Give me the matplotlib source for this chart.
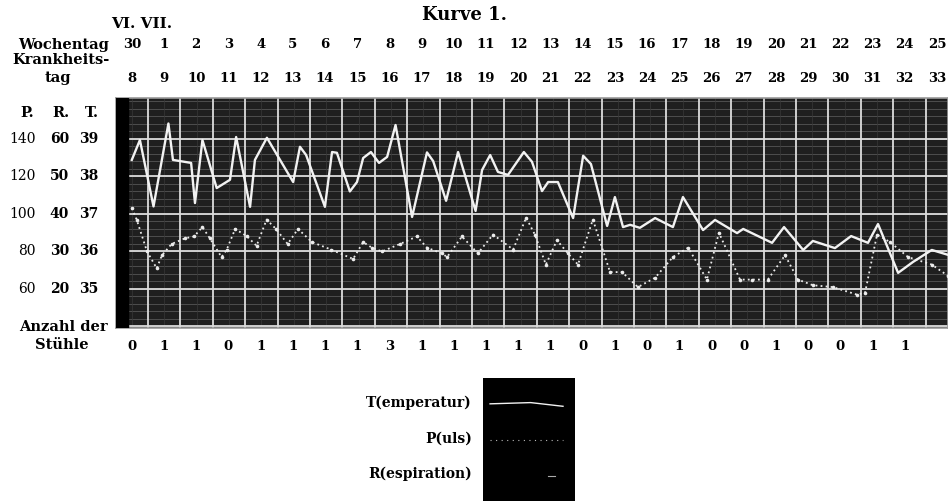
import matplotlib.pyplot as plt
from matplotlib.transforms import blended_transform_factory

plt.rcParams['font.family'] = ['DejaVu Serif']
plt.rcParams['font.weight'] = 'bold'

# Tage (Spalten): Wochentag / Krankheitstag / Anzahl der Stuehle
wochentag = [30, 1, 2, 3, 4, 5, 6, 7, 8, 9, 10, 11, 12, 13, 14, 15, 16, 17,
             18, 19, 20, 21, 22, 23, 24, 25]
krankheitstag = [8, 9, 10, 11, 12, 13, 14, 15, 16, 17, 18, 19, 20, 21, 22,
                 23, 24, 25, 26, 27, 28, 29, 30, 31, 32, 33]
stuehle = [0, 1, 1, 0, 1, 1, 1, 1, 3, 1, 1, 1, 1, 1, 0, 1, 0, 1, 0, 0, 1, 0,
           0, 1, 1]

# Temperatur (Zeit in Tagen ab Spalte "30")
t_temp = [0.50, 0.75, 1.17, 1.63, 1.77, 2.33, 2.45, 2.68, 3.12, 3.53, 3.72,
          4.15, 4.30, 4.67, 5.48, 5.69, 5.88, 6.46, 6.68, 6.83, 7.23, 7.45,
          7.64, 7.88, 8.13, 8.38, 8.64, 9.15, 9.61, 9.80, 10.20, 10.57, 11.11,
          11.31, 11.56, 11.80, 12.11, 12.60, 12.85, 13.16, 13.35, 13.65,
          14.12, 14.43, 14.67, 15.17, 15.41, 15.66, 15.88, 16.18, 16.65,
          17.20, 17.51, 18.13, 18.50, 19.18, 19.37, 20.26, 20.63, 21.22,
          21.52, 22.20, 22.70, 23.22, 23.53, 24.15, 24.61, 25.19, 25.69]
temp = [38.44, 38.97, 37.20, 39.41, 38.44, 38.36, 37.29, 38.97, 37.69, 37.91,
        39.05, 37.19, 38.44, 39.03, 37.85, 38.79, 38.57, 37.19, 38.65, 38.63,
        37.60, 37.85, 38.49, 38.65, 38.36, 38.52, 39.37, 36.92, 38.64, 38.41,
        37.35, 38.65, 37.08, 38.17, 38.57, 38.12, 38.04, 38.65, 38.39, 37.61,
        37.85, 37.85, 36.89, 38.55, 38.33, 36.68, 37.45, 36.65, 36.71, 36.63,
        36.89, 36.65, 37.45, 36.57, 36.84, 36.49, 36.60, 36.23, 36.65, 36.04,
        36.28, 36.09, 36.41, 36.23, 36.73, 35.43, 35.72, 36.04, 35.91]

# Puls
t_puls = [0.50, 0.65, 0.97, 1.27, 1.43, 1.73, 2.14, 2.42, 2.68, 2.91, 3.27,
          3.43, 3.69, 4.06, 4.35, 4.66, 4.95, 5.31, 5.63, 6.06, 6.65, 7.33,
          7.64, 7.91, 8.22, 8.78, 9.30, 9.61, 10.07, 10.23, 10.69, 11.18,
          11.65, 12.27, 12.67, 12.94, 13.28, 13.62, 13.96, 14.27, 14.73,
          15.26, 15.63, 16.12, 16.65, 17.20, 17.67, 18.25, 18.62, 19.27,
          19.64, 20.13, 20.66, 21.06, 21.52, 22.14, 22.88, 23.13, 23.50,
          23.90, 24.46, 25.19, 25.69]
puls = [103, 97, 80, 71, 78, 84, 87, 88, 93, 87, 77, 81, 92, 88, 83, 97, 92,
        84, 92, 85, 81, 76, 85, 82, 80, 84, 88, 82, 79, 77, 88, 79, 89, 81,
        98, 89, 73, 86, 79, 73, 97, 69, 69, 61, 66, 77, 82, 65, 90, 65, 65,
        65, 78, 65, 62, 61, 57, 58, 89, 85, 77, 73, 67]

# Skalen
p_scale = [140, 120, 100, 80, 60]
r_scale = [60, 50, 40, 30, 20]
t_scale = [39, 38, 37, 36, 35]


def puls_to_t(p):
    return 35 + (p - 60) / 20.0


W, H = 948, 501
fig = plt.figure(figsize=(W / 100, H / 100), dpi=100)
fig.patch.set_facecolor('white')


def fx(px):
    return px / W


def fy(py):
    return 1 - py / H


ax = fig.add_axes([fx(115.6), fy(328), fx(948 - 115.6), (328 - 98) / H])
ax.set_facecolor('#1f1f1f')
ax.set_xlim(0, 25.69)
ax.set_ylim(33.96, 40.09)
ax.set_xticks([])
ax.set_yticks([])
for s in ax.spines.values():
    s.set_color('#9a9a9a')
    s.set_linewidth(1.2)

# Raster: feine Linien
for k in range(34 * 5, 40 * 5 + 1):
    ax.axhline(k / 5.0, color='#555555', lw=0.6, zorder=1)
for i in range(1, 26):
    ax.axvline(i - 0.5, color='#383838', lw=0.5, zorder=1)
# Raster: Hauptlinien
for t in t_scale + [34]:
    ax.axhline(t, color='#dcdcdc', lw=1.3, zorder=2)
for i in range(1, 26):
    ax.axvline(i, color='#dcdcdc', lw=1.3, zorder=2)

ax.axvspan(0, 0.38, color='black', zorder=3)

# Kurven
ax.plot(t_temp, temp, color='#f2f2f2', lw=1.7, zorder=5)
ax.plot(t_puls, [puls_to_t(p) for p in puls], color='#ececec', lw=1.3,
        ls=(0, (1, 1.8)), marker='o', ms=2.6, mec='none', zorder=4)

# Beschriftungen oben
fig.text(fx(465), fy(15), 'Kurve 1.', ha='center', va='center', fontsize=13)
fig.text(fx(111), fy(24), 'VI. VII.', ha='left', va='center', fontsize=11)
fig.text(fx(109), fy(45), 'Wochentag', ha='right', va='center', fontsize=10.5)
fig.text(fx(110), fy(60), 'Krankheits-', ha='right', va='center', fontsize=10.5)
fig.text(fx(58), fy(78), 'tag', ha='center', va='center', fontsize=10.5)

tr_top = blended_transform_factory(ax.transData, fig.transFigure)
for i, (w, k) in enumerate(zip(wochentag, krankheitstag)):
    xc = i + 0.5 - 0.006 * i
    ax.text(xc, fy(45), str(w), transform=tr_top, ha='center',
            va='center', fontsize=9.5)
    ax.text(xc, fy(78), str(k), transform=tr_top, ha='center',
            va='center', fontsize=9.5)
for i, n in enumerate(stuehle):
    ax.text(i + 0.5 - 0.006 * i, fy(347), str(n), transform=tr_top,
            ha='center', va='center', fontsize=9.5)

# Skala links
tr_left = blended_transform_factory(fig.transFigure, ax.transData)
fig.text(fx(27), fy(113), 'P.', ha='center', va='center', fontsize=10.5)
fig.text(fx(61), fy(113), 'R.', ha='center', va='center', fontsize=10.5)
fig.text(fx(92), fy(113), 'T.', ha='center', va='center', fontsize=10.5)
for p, r, t in zip(p_scale, r_scale, t_scale):
    ax.text(fx(36), t, str(p), transform=tr_left, ha='right', va='center',
            fontsize=10, fontweight='normal')
    ax.text(fx(69), t, str(r), transform=tr_left, ha='right', va='center',
            fontsize=10)
    ax.text(fx(98), t, str(t), transform=tr_left, ha='right', va='center',
            fontsize=10)

fig.text(fx(108), fy(327), 'Anzahl der', ha='right', va='center', fontsize=10.5)
fig.text(fx(62), fy(345), 'Stühle', ha='center', va='center', fontsize=10.5)

# Zeichenerklaerung
lg = fig.add_axes([fx(482.7), 0, fx(575 - 482.7), (501 - 378) / H])
lg.set_facecolor('black')
lg.set_xlim(0, 1)
lg.set_ylim(0, 1)
lg.set_xticks([])
lg.set_yticks([])
for s in lg.spines.values():
    s.set_visible(False)
lg.plot([0.08, 0.52, 0.87], [0.79, 0.80, 0.77], color='#f2f2f2', lw=1.0)
lg.plot([0.08, 0.87], [0.50, 0.50], color='#bbbbbb', lw=0.8, ls=(0, (1, 4)))
lg.plot([0.71, 0.78], [0.20, 0.20], color='#aaaaaa', lw=0.8)

fig.text(fx(472), fy(403), 'T(emperatur)', ha='right', va='center', fontsize=10)
fig.text(fx(472), fy(439), 'P(uls)', ha='right', va='center', fontsize=10)
fig.text(fx(472), fy(474), 'R(espiration)', ha='right', va='center', fontsize=10)

fig.savefig('out.png', dpi=100, facecolor='white')
